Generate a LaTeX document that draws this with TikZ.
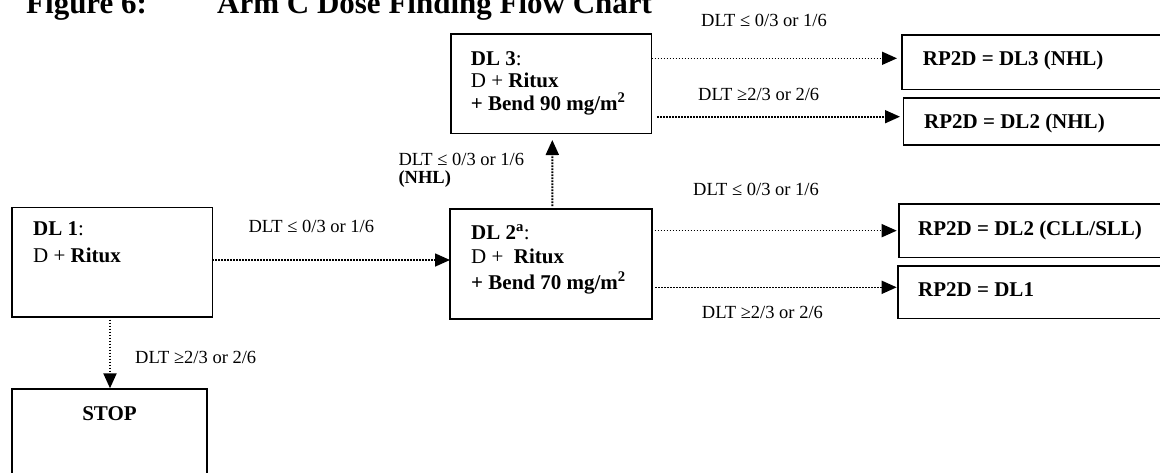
\documentclass[tikz,border=0pt]{standalone}
\usepackage{fontspec}
\setmainfont{Liberation Serif}
\usetikzlibrary{arrows.meta,calc}
\begin{document}
\begin{tikzpicture}[x=1pt,y=-1pt,
  box/.style={draw, line width=1.6pt, inner sep=0pt, outer sep=0pt},
  flow/.style={line width=1.6pt, dash pattern=on 1.6pt off 1.4pt,
    -{Triangle[length=15pt,width=13pt]}},
  vflow/.style={flow, line width=2.1pt, dash pattern=on 1.6pt off 1.4pt},
  bt/.style={font=\fontsize{21}{25}\selectfont, inner sep=0pt, anchor=base west},
  lab/.style={font=\fontsize{18.5}{22}\selectfont, inner sep=0pt, anchor=base west},
  ttl/.style={font=\fontsize{31}{36}\selectfont\bfseries, inner sep=0pt, anchor=base west}]
\useasboundingbox (0,0) rectangle (1160,472);
\clip (0,0) rectangle (1160,472);

% title
\node[ttl] (fig) at (26,13.5) {Figure 6:};
\node[ttl] (title) at (217,13.5) {Arm C Dose Finding Flow Chart};

% dose-level boxes
\node[box, minimum width=200.5pt, minimum height=99.5pt] (dl3) at (551.25,83.75) {};
\node[box, minimum width=201.7pt, minimum height=110pt] (dl2) at (550.85,264) {};
\node[box, minimum width=200.6pt, minimum height=109.4pt] (dl1) at (112,262) {};
\node[box, minimum width=194.7pt, minimum height=151pt] (stop) at (109.35,464.5) {};

% outcome boxes (run past the right edge)
\node[box, minimum width=298.3pt, minimum height=54.3pt] (rp3) at (1050.85,62.15) {};
\node[box, minimum width=296.7pt, minimum height=47.3pt] (rp2n) at (1051.65,121.35) {};
\node[box, minimum width=301pt, minimum height=53.3pt] (rp2c) at (1049.5,230.65) {};
\node[box, minimum width=302.3pt, minimum height=52.3pt] (rp1) at (1048.85,292.15) {};

% box texts
\node[bt] (dl3a) at (470.7,65.7) {\textbf{DL 3}:};
\node[bt] (dl3b) at (470.7,87.5) {D + \textbf{Ritux}};
\node[bt] (dl3c) at (470.7,110) {\textbf{+ Bend 90 mg/m\textsuperscript{2}}};

\node[bt] (dl2a) at (471,239.3) {\textbf{DL 2\textsuperscript{a}}:};
\node[bt] (dl2b) at (471,263.3) {D +~ \textbf{Ritux}};
\node[bt] (dl2c) at (471,289) {\textbf{+ Bend 70 mg/m\textsuperscript{2}}};

\node[bt] (dl1a) at (33,235) {\textbf{DL 1}:};
\node[bt] (dl1b) at (33,262.5) {D + \textbf{Ritux}};

\node[bt, anchor=base] (stopt) at (109.5,420) {\textbf{STOP}};

\node[bt] (rp3t) at (922.7,65) {\textbf{RP2D = DL3 (NHL)}};
\node[bt] (rp2nt) at (924,128) {\textbf{RP2D = DL2 (NHL)}};
\node[bt] (rp2ct) at (918,235) {\textbf{RP2D = DL2 (CLL/SLL)}};
\node[bt] (rp1t) at (918,296) {\textbf{RP2D = DL1}};

% connectors
\draw[flow] ($(dl3.east |- rp3.west)+(0,-3.85)$) -- ($(rp3.west)+(-4.7,-3.85)$);
\draw[flow] ($(dl3.east |- rp2n.west)+(5.5,-4.65)$) -- ($(rp2n.west)+(-3.3,-4.65)$);
\draw[flow] (dl2.east |- rp2c.west) -- ($(rp2c.west)+(-2.3,0)$);
\draw[flow] ($(dl2.east |- rp1.west)+(3.3,-4.85)$) -- ($(rp1.west)+(-1,-4.85)$);
\draw[flow] ($(dl1.east)+(0,-2)$) -- ($(dl1.east -| dl2.west)+(0,-2)$);
\draw[vflow] ($(dl2.north)+(1.5,-3)$) -- ($(dl3.south)+(1.05,6.5)$);
\draw[vflow] ($(dl1.south)+(-2,0)$) -- ($(dl1.south |- stop.north)+(-2,-0.7)$);

% connector labels
\node[lab] (l1) at (701,26) {DLT ≤ 0/3 or 1/6};
\node[lab] (l2) at (698,100) {DLT ≥2/3 or 2/6};
\node[lab] (l3) at (693,195) {DLT ≤ 0/3 or 1/6};
\node[lab] (l4) at (701.7,318) {DLT ≥2/3 or 2/6};
\node[lab] (l5) at (248.3,232.7) {DLT ≤ 0/3 or 1/6};
\node[lab] (l6) at (135,363) {DLT ≥2/3 or 2/6};
\node[lab] (l7) at (398.3,165) {DLT ≤ 0/3 or 1/6};
\node[lab] (l7b) at (398.3,183) {\textbf{(NHL)}};
\end{tikzpicture}
\end{document}
